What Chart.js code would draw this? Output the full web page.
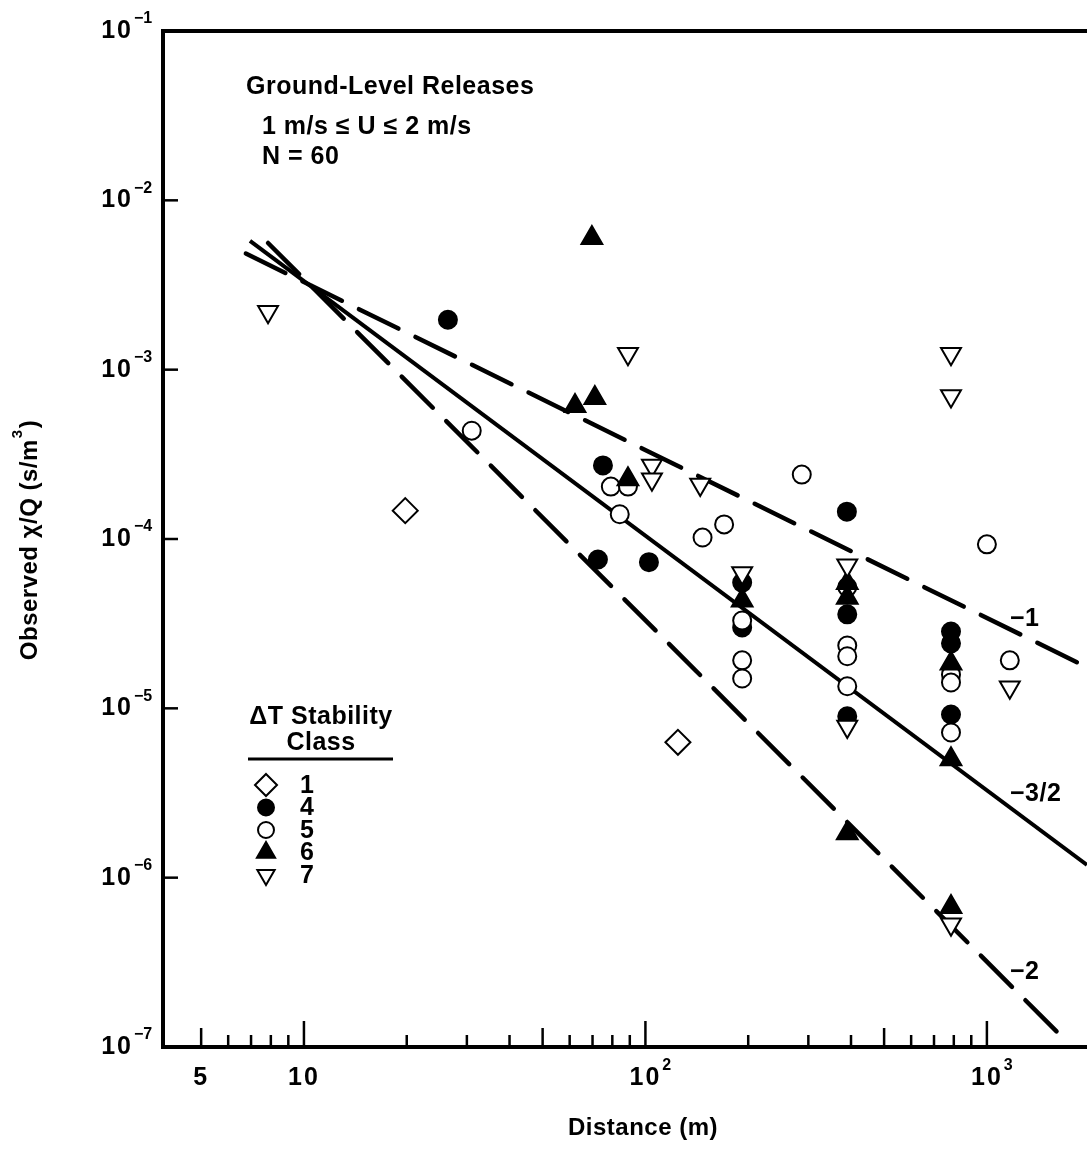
<!DOCTYPE html>
<html>
<head>
<meta charset="utf-8">
<script src="https://cdn.jsdelivr.net/npm/chart.js@4.4.1/dist/chart.umd.min.js"></script>
<style>
  html, body { margin: 0; padding: 0; background: #fff; overflow: hidden; }
  #wrap { width: 1087px; height: 1149px; }
  canvas { display: block; }
</style>
</head>
<body>
<div id="wrap"><canvas id="chart" width="1087" height="1149"></canvas></div>
<script>
// observed chi/Q (s/m^3) against distance (m), one pair of arrays per dT stability class
const class1X = [19.8, 124.5];
const class1Y = [1.47e-4, 6.3e-6];

const class4X = [26.4, 75.1, 72.6, 102.4, 389, 192, 192, 390, 390, 785, 785, 785];
const class4Y = [1.97e-3, 2.72e-4, 7.57e-5, 7.3e-5, 1.45e-4, 5.53e-5, 3.0e-5, 3.59e-5, 8.97e-6, 2.84e-5, 2.42e-5, 9.2e-6];

const class5X = [31.0, 79.2, 88.9, 84.1, 147, 170, 287, 192, 192, 192, 390, 390, 390, 390, 785, 785, 785, 1000, 1167];
const class5Y = [4.36e-4, 2.04e-4, 2.04e-4, 1.4e-4, 1.02e-4, 1.22e-4, 2.4e-4, 3.3e-5, 1.92e-5, 1.5e-5, 5.2e-5, 2.35e-5, 2.03e-5, 1.35e-5, 1.58e-5, 1.42e-5, 7.2e-6, 9.3e-5, 1.92e-5];

const class6X = [69.7, 62.2, 71.1, 88.9, 192, 390, 390, 390, 785, 785, 785];
const class6Y = [6.0e-3, 6.1e-4, 6.8e-4, 2.25e-4, 4.34e-5, 5.5e-5, 4.5e-5, 1.83e-6, 1.84e-5, 5.0e-6, 6.7e-7];

const class7X = [7.85, 88.9, 104.5, 104.5, 144.7, 192, 390, 390, 785, 785, 785, 1167];
const class7Y = [2.2e-3, 1.24e-3, 2.72e-4, 2.25e-4, 2.1e-4, 6.3e-5, 7.0e-5, 7.8e-6, 1.24e-3, 7.0e-4, 5.3e-7, 1.33e-5];

// reference slopes, end points
const slope1X = [6.76, 1964];
const slope1Y = [4.85e-3, 1.75e-5];
const slope15X = [6.95, 1964];
const slope15Y = [5.77e-3, 1.19e-6];
const slope2X = [7.85, 1658];
const slope2Y = [5.6e-3, 1.15e-7];

// axis ticks
const xTicks = [5, 6, 7, 8, 9, 10, 20, 30, 40, 50, 60, 70, 80, 90, 100, 200, 300, 400, 500, 600, 700, 800, 900, 1000];
const xLabelValues = [5, 10, 100, 1000];
const xLabelBase = ['5', '10', '10', '10'];
const xLabelExp = ['', '', '2', '3'];
const yTicks = [1e-1, 1e-2, 1e-3, 1e-4, 1e-5, 1e-6, 1e-7];
const yLabelExp = ['\u22121', '\u22122', '\u22123', '\u22124', '\u22125', '\u22126', '\u22127'];

const FONT = '"Liberation Sans", Arial, sans-serif';

function pts(xs, ys) {
  return xs.map((v, i) => ({x: v, y: ys[i]}));
}

function marker(label, xs, ys, style, r, filled, rot, order) {
  return {
    label: label,
    data: pts(xs, ys),
    pointStyle: style,
    pointRadius: r,
    pointRotation: rot,
    pointBorderWidth: 2,
    pointBackgroundColor: filled ? '#000' : '#fff',
    pointBorderColor: '#000',
    showLine: false,
    order: order
  };
}

function slope(xs, ys, dash) {
  return {
    label: 'slope',
    data: pts(xs, ys),
    showLine: true,
    pointRadius: 0,
    borderColor: '#000',
    borderWidth: dash ? 4.5 : 4,
    borderDash: dash ? [44, 19] : [],
    borderCapStyle: dash ? 'round' : 'butt',
    order: 10
  };
}

function drawMarker(ctx, ds, x, y) {
  const r = ds.pointRadius;
  ctx.beginPath();
  if (ds.pointStyle === 'circle') {
    ctx.arc(x, y, r, 0, Math.PI * 2);
  } else if (ds.pointStyle === 'rectRot') {
    ctx.moveTo(x, y - r); ctx.lineTo(x + r, y); ctx.lineTo(x, y + r); ctx.lineTo(x - r, y);
    ctx.closePath();
  } else {
    const s = ds.pointRotation ? -1 : 1;
    ctx.moveTo(x, y - s * r);
    ctx.lineTo(x + r * 0.866, y + s * r * 0.5);
    ctx.lineTo(x - r * 0.866, y + s * r * 0.5);
    ctx.closePath();
  }
  ctx.fillStyle = ds.pointBackgroundColor;
  ctx.fill();
  ctx.lineWidth = 2;
  ctx.strokeStyle = '#000';
  ctx.stroke();
}

// "10" with a raised exponent
function drawPow(ctx, base, exp, x, y, align) {
  ctx.font = 'bold 25px ' + FONT;
  ctx.letterSpacing = '2px';
  const bw = ctx.measureText(base).width;
  let bx = x;
  if (align === 'right') bx = x - bw;
  if (align === 'center') bx = x - bw / 2;
  ctx.textAlign = 'left';
  ctx.textBaseline = 'middle';
  ctx.fillText(base, bx, y);
  if (exp) {
    ctx.font = 'bold 16px ' + FONT;
    ctx.letterSpacing = '0px';
    ctx.fillText(exp, bx + bw + 1, y - 12);
  }
}

const decor = {
  id: 'decor',
  afterDraw(chart) {
    const {ctx, chartArea: a, scales: {x, y}} = chart;
    ctx.save();
    ctx.fillStyle = '#000';
    ctx.strokeStyle = '#000';

    // top frame line
    ctx.lineWidth = 4;
    ctx.beginPath();
    ctx.moveTo(a.left - 2, a.top);
    ctx.lineTo(a.right, a.top);
    ctx.stroke();

    // x ticks point up into the plot
    ctx.lineWidth = 2.5;
    xTicks.forEach(v => {
      const px = x.getPixelForValue(v);
      const m = Math.round(v / Math.pow(10, Math.floor(Math.log10(v) + 1e-9)));
      const len = m === 1 ? 26 : (m === 5 ? 19 : 12);
      ctx.beginPath();
      ctx.moveTo(px, a.bottom);
      ctx.lineTo(px, a.bottom - len);
      ctx.stroke();
    });
    // y ticks point right
    yTicks.forEach(v => {
      const py = y.getPixelForValue(v);
      ctx.beginPath();
      ctx.moveTo(a.left, py);
      ctx.lineTo(a.left + 15, py);
      ctx.stroke();
    });

    // tick labels
    xLabelValues.forEach((v, i) => {
      drawPow(ctx, xLabelBase[i], xLabelExp[i], x.getPixelForValue(v), 1078, 'center');
    });
    yTicks.forEach((v, i) => {
      drawPow(ctx, '10', yLabelExp[i], 133, y.getPixelForValue(v), 'right');
    });

    // axis titles
    ctx.letterSpacing = '0.5px';
    ctx.font = 'bold 24px ' + FONT;
    ctx.textAlign = 'center';
    ctx.textBaseline = 'middle';
    ctx.fillText('Distance (m)', 643, 1128);

    ctx.save();
    ctx.translate(30, 540);
    ctx.rotate(-Math.PI / 2);
    const t1 = 'Observed \u03c7/Q (s/m', t2 = '3', t3 = ')';
    ctx.font = 'bold 24px ' + FONT;
    const w1 = ctx.measureText(t1).width, w3 = ctx.measureText(t3).width;
    ctx.font = 'bold 15px ' + FONT;
    const w2 = ctx.measureText(t2).width;
    let sx = -(w1 + w2 + w3 + 2) / 2;
    ctx.textAlign = 'left';
    ctx.font = 'bold 24px ' + FONT;
    ctx.fillText(t1, sx, 0);
    ctx.font = 'bold 15px ' + FONT;
    ctx.fillText(t2, sx + w1 + 1, -12);
    ctx.font = 'bold 24px ' + FONT;
    ctx.fillText(t3, sx + w1 + w2 + 2, 0);
    ctx.restore();

    // header text
    ctx.textAlign = 'left';
    ctx.font = 'bold 25px ' + FONT;
    ctx.fillText('Ground-Level Releases', 246, 87);
    ctx.fillText('1 m/s \u2264 U \u2264 2 m/s', 262, 127);
    ctx.fillText('N = 60', 262, 157);

    // slope labels
    ctx.fillText('\u22121', 1010, 619);
    ctx.fillText('\u22123/2', 1010, 794);
    ctx.fillText('\u22122', 1010, 972);

    // legend
    ctx.textAlign = 'center';
    ctx.fillText('\u0394T Stability', 321, 717);
    ctx.fillText('Class', 321, 743);
    ctx.lineWidth = 3;
    ctx.beginPath();
    ctx.moveTo(248, 759);
    ctx.lineTo(393, 759);
    ctx.stroke();
    const items = chart.data.datasets.filter(d => d.label !== 'slope')
      .sort((p, q) => Number(p.label) - Number(q.label));
    items.forEach((ds, i) => {
      const ly = 785 + i * 22.5;
      const sz = Object.assign({}, ds, {pointRadius: ds.pointStyle === 'circle' ? 8 : ds.pointRadius - 1.5});
      drawMarker(ctx, sz, 266, ly);
      ctx.fillStyle = '#000';
      ctx.textAlign = 'left';
      ctx.font = 'bold 25px ' + FONT;
      ctx.fillText(ds.label, 300, ly + 1);
    });
    ctx.restore();
  }
};

new Chart(document.getElementById('chart'), {
  type: 'scatter',
  data: {
    datasets: [
      marker('7', class7X, class7Y, 'triangle', 11.5, false, 180, 1),
      marker('6', class6X, class6Y, 'triangle', 12, true, 0, 2),
      marker('5', class5X, class5Y, 'circle', 9, false, 0, 3),
      marker('4', class4X, class4Y, 'circle', 9, true, 0, 4),
      marker('1', class1X, class1Y, 'rectRot', 12.5, false, 0, 5),
      slope(slope1X, slope1Y, true),
      slope(slope15X, slope15Y, false),
      slope(slope2X, slope2Y, true)
    ]
  },
  options: {
    responsive: false,
    animation: false,
    devicePixelRatio: 1,
    layout: {autoPadding: false, padding: {top: 31, right: 0, left: 0, bottom: 0}},
    plugins: {legend: {display: false}, tooltip: {enabled: false}},
    scales: {
      x: {
        type: 'logarithmic',
        min: 3.866,
        max: 1964,
        grid: {display: false},
        border: {display: true, color: '#000', width: 4},
        ticks: {display: false},
        afterFit(s) { s.height = 102; s.paddingLeft = 0; s.paddingRight = 0; }
      },
      y: {
        type: 'logarithmic',
        min: 1e-7,
        max: 1e-1,
        grid: {display: false},
        border: {display: true, color: '#000', width: 4},
        ticks: {display: false},
        afterFit(s) { s.width = 163; s.paddingTop = 0; s.paddingBottom = 0; }
      }
    }
  },
  plugins: [decor]
});
</script>
</body>
</html>
